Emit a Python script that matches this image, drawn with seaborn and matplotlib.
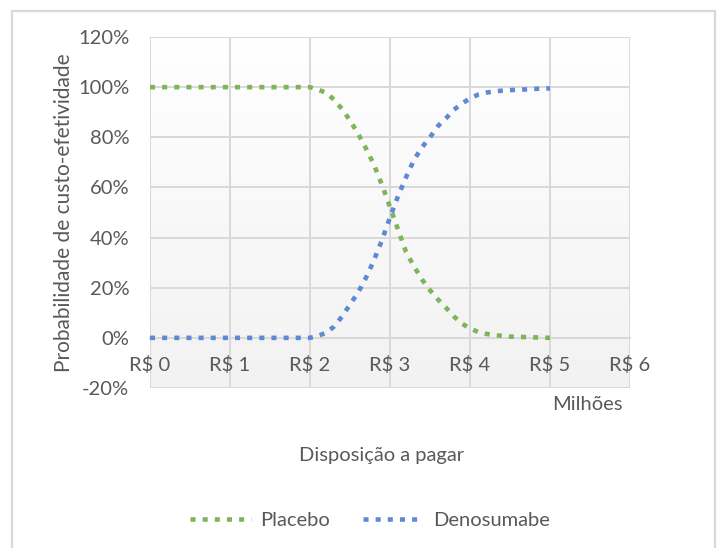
import numpy as np
import pandas as pd
import seaborn as sns
import matplotlib.pyplot as plt
from matplotlib.patches import Rectangle
from matplotlib.lines import Line2D
from matplotlib.colors import LinearSegmentedColormap
from matplotlib.ticker import FuncFormatter, MultipleLocator

# Willingness to pay (millions of R$) and probability of cost-effectiveness
wtp = [round(0.1 * i, 1) for i in range(51)]

placebo = [1.0] * 21 + [
    0.990, 0.978, 0.950, 0.913, 0.867, 0.815, 0.755, 0.690, 0.610, 0.522,
    0.432, 0.343, 0.285, 0.233, 0.190, 0.153, 0.120, 0.085, 0.057, 0.037,
    0.024, 0.016, 0.011, 0.008, 0.005, 0.004, 0.003, 0.002, 0.001, 0.000,
]
denosumabe = [0.0] * 21 + [
    0.008, 0.020, 0.045, 0.085, 0.133, 0.180, 0.240, 0.310, 0.390, 0.480,
    0.565, 0.640, 0.710, 0.760, 0.800, 0.845, 0.876, 0.910, 0.935, 0.955,
    0.970, 0.978, 0.983, 0.986, 0.988, 0.990, 0.991, 0.993, 0.994, 0.995,
]

series_names = ["Placebo", "Denosumabe"]
series_colors = ["#7cb55a", "#5f89d3"]

df = pd.DataFrame({
    "wtp": wtp * 2,
    "prob": placebo + denosumabe,
    "serie": ["Placebo"] * len(wtp) + ["Denosumabe"] * len(wtp),
})

sns.set_theme(style="white")
plt.rcParams["font.family"] = ["Lato", "DejaVu Sans"]
text_color = "#595959"
grid_color = "#d9d9d9"
fs = 14.5

fig = plt.figure(figsize=(7.19, 5.48), dpi=100)
ax = fig.add_axes([150 / 719, 1 - 388 / 548, 480 / 719, 351 / 548])

# chart border
fig.patches.append(Rectangle((12 / 719, -0.05), 703 / 719, 1.05 - 11 / 548,
                             transform=fig.transFigure, fill=False,
                             edgecolor=grid_color, linewidth=1.6))

# plot-area gradient (white to light grey)
grad = np.linspace(1.0, 0.0, 256).reshape(-1, 1)
ax.imshow(grad, extent=[0, 1, 0, 1], transform=ax.transAxes, aspect="auto",
          cmap=LinearSegmentedColormap.from_list("bg", ["#f2f2f2", "#ffffff"]),
          zorder=0)

lw = 3.3
dots = (1.1, 1.55)
sns.lineplot(data=df, x="wtp", y="prob", hue="serie", style="serie",
             hue_order=series_names, style_order=series_names,
             palette=dict(zip(series_names, series_colors)),
             dashes={n: dots for n in series_names},
             linewidth=lw, legend=False, ax=ax, zorder=3)
for ln in ax.get_lines():
    ln.set_dash_capstyle("butt")

ax.set_xlim(0, 6)
ax.set_ylim(-0.2, 1.2)
ax.xaxis.set_major_locator(MultipleLocator(1))
ax.yaxis.set_major_locator(MultipleLocator(0.2))
ax.yaxis.set_major_formatter(FuncFormatter(lambda v, p: f"{v * 100:.0f}%"))
ax.xaxis.set_major_formatter(FuncFormatter(lambda v, p: f"R$ {v:.0f}"))

ax.grid(True, color=grid_color, linewidth=1.4, zorder=1)
ax.set_axisbelow(True)
for s in ["top", "right", "left"]:
    ax.spines[s].set_visible(False)
ax.spines["bottom"].set_position(("data", 0))
ax.spines["bottom"].set_color(grid_color)
ax.spines["bottom"].set_linewidth(1.4)
ax.axhline(-0.2, color=grid_color, linewidth=1.4, zorder=1)

ax.tick_params(axis="both", length=0, colors=text_color, labelsize=fs)
ax.tick_params(axis="x", pad=13)
ax.tick_params(axis="y", pad=15)

ax.set_xlabel("")
ax.set_ylabel("Probabilidade de custo-efetividade", color=text_color,
              fontsize=15, labelpad=3)

fig.text(623 / 719, 1 - 405 / 548, "Milhões", ha="right", va="center",
         color=text_color, fontsize=fs)
fig.text(382 / 719, 1 - 456 / 548, "Disposição a pagar", ha="center",
         va="center", color=text_color, fontsize=fs)

handles = [Line2D([], [], color=c, linewidth=lw, dashes=dots,
                  dash_capstyle="butt") for c in series_colors]
fig.legend(handles, series_names, loc="center", ncol=2,
           bbox_to_anchor=(370 / 719, 1 - 520 / 548), frameon=False,
           fontsize=fs, handlelength=3.0, columnspacing=1.6,
           handletextpad=0.5, labelcolor=text_color)

fig.savefig("out.png", dpi=100)
